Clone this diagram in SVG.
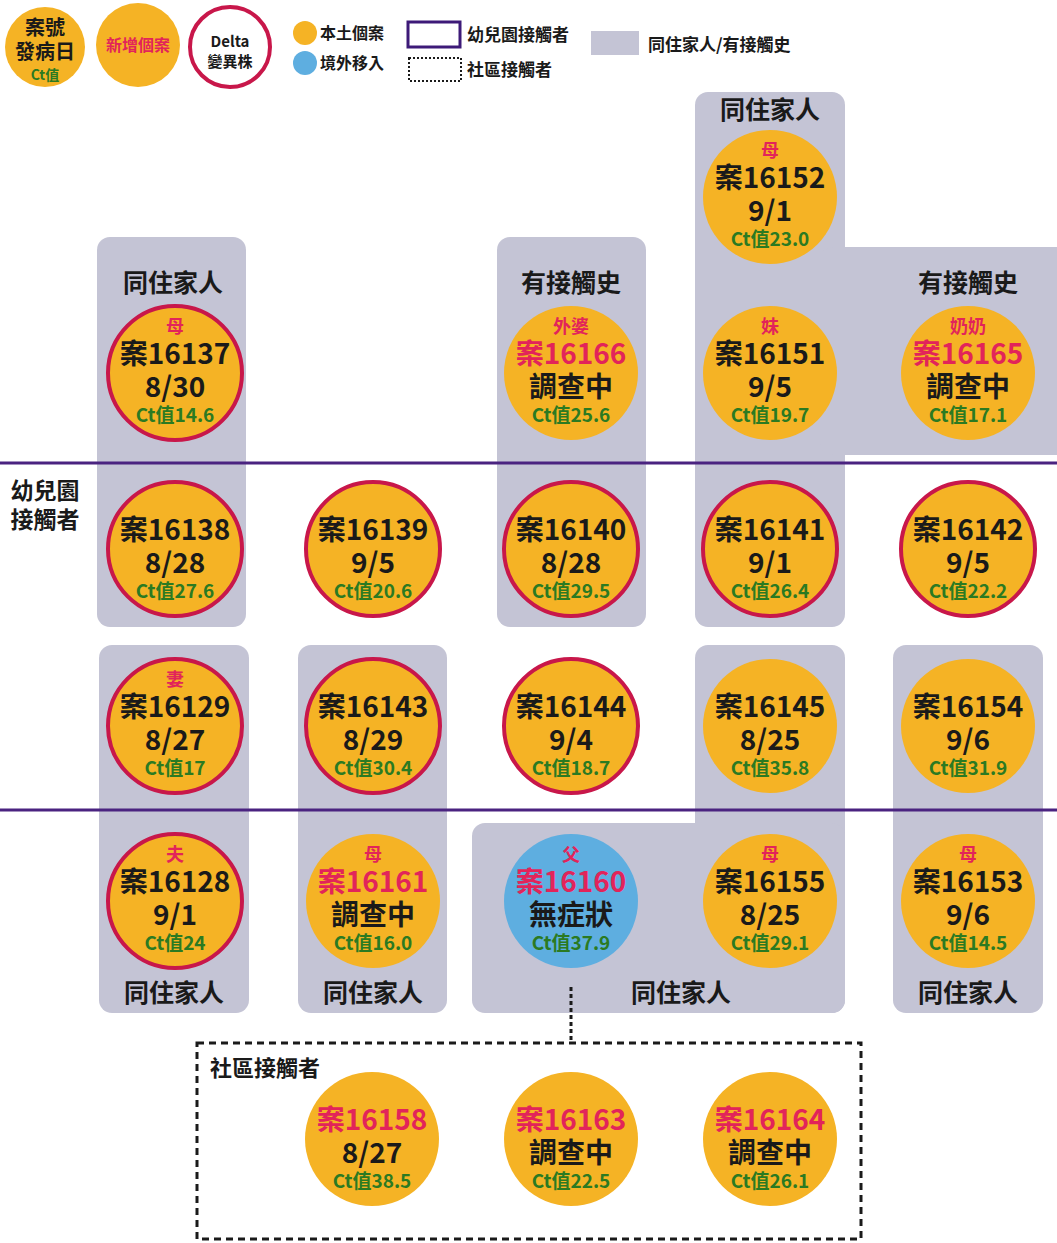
<svg xmlns="http://www.w3.org/2000/svg" width="1057" height="1243" viewBox="0 0 1057 1243">
<style>
text{font-family:"Noto Sans CJK TC","Noto Sans",sans-serif;font-weight:bold;text-anchor:middle}
.box{fill:#c4c4d5}
.loc{fill:#f5b325}
.imp{fill:#5eaee0}
.delta{stroke:#c8174a;stroke-width:4}
.rel{font-size:18px;fill:#e2245a}
.id{font-size:28px;fill:#1a1a1a}
.idn{font-size:28px;fill:#e2245a}
.dt{font-size:28px;fill:#1a1a1a}
.ct{font-size:19px;fill:#2b7a22}
.lbl{font-size:25px;fill:#1a1a1a}
.leg{font-size:16px;fill:#1a1a1a;text-anchor:start}
.kline{stroke:#4a2380;stroke-width:3}
</style>
<rect width="1057" height="1243" fill="#ffffff"/>

<g id="legend">
<circle cx="45" cy="47" r="40" class="loc"/>
<text x="45" y="35" style="font-size:20px;fill:#1a1a1a">案號</text>
<text x="45" y="59" style="font-size:20px;fill:#1a1a1a">發病日</text>
<text x="45" y="80" style="font-size:14px;fill:#2b7a22">Ct值</text>
<circle cx="138" cy="45" r="42" class="loc"/>
<text x="138" y="51" style="font-size:16px;fill:#e2245a">新增個案</text>
<circle cx="230" cy="47" r="40" fill="#ffffff" class="delta"/>
<text x="230" y="47" style="font-size:15px;fill:#1a1a1a">Delta</text>
<text x="230" y="67" style="font-size:15px;fill:#1a1a1a">變異株</text>
<circle cx="305" cy="33" r="12" class="loc"/>
<text x="320" y="39" class="leg">本土個案</text>
<circle cx="305" cy="63" r="12" class="imp"/>
<text x="320" y="69" class="leg">境外移入</text>
<rect x="408" y="22" width="52" height="25" fill="#ffffff" stroke="#3d1a78" stroke-width="3"/>
<text x="467" y="41" class="leg" style="font-size:17px">幼兒園接觸者</text>
<rect x="409" y="58" width="52" height="23" fill="#ffffff" stroke="#1a1a1a" stroke-width="2" stroke-dasharray="2,2"/>
<text x="467" y="76" class="leg" style="font-size:17px">社區接觸者</text>
<rect x="591" y="31" width="48" height="24" class="box"/>
<text x="648" y="51" class="leg" style="font-size:17px">同住家人/有接觸史</text>
</g>

<g id="groups">
<rect x="97" y="237" width="149" height="390" rx="13" class="box"/>
<rect x="497" y="237" width="149" height="390" rx="13" class="box"/>
<rect x="695" y="92" width="150" height="535" rx="13" class="box"/>
<rect x="820" y="247" width="250" height="208" rx="13" class="box"/>
<rect x="99" y="645" width="150" height="368" rx="13" class="box"/>
<rect x="298" y="645" width="149" height="368" rx="13" class="box"/>
<rect x="695" y="645" width="150" height="368" rx="13" class="box"/>
<rect x="472" y="823" width="373" height="190" rx="13" class="box"/>
<rect x="893" y="645" width="150" height="368" rx="13" class="box"/>
<text x="173" y="292" class="lbl">同住家人</text>
<text x="571" y="292" class="lbl">有接觸史</text>
<text x="770" y="119" class="lbl">同住家人</text>
<text x="968" y="292" class="lbl">有接觸史</text>
<text x="174" y="1002" class="lbl">同住家人</text>
<text x="373" y="1002" class="lbl">同住家人</text>
<text x="681" y="1002" class="lbl">同住家人</text>
<text x="968" y="1002" class="lbl">同住家人</text>
</g>

<g id="kindergarten">
<line x1="0" y1="463" x2="1057" y2="463" class="kline"/>
<line x1="0" y1="810" x2="1057" y2="810" class="kline"/>
<text x="45" y="499" style="font-size:23px;fill:#1a1a1a">幼兒園</text>
<text x="45" y="528" style="font-size:23px;fill:#1a1a1a">接觸者</text>
</g>

<g id="connectors">
<line x1="571" y1="987" x2="571" y2="1043" stroke="#1a1a1a" stroke-width="3" stroke-dasharray="4,3"/>
</g>

<g id="community">
<rect x="197" y="1043" width="664" height="196" fill="none" stroke="#1a1a1a" stroke-width="3" stroke-dasharray="7,5"/>
<text x="210" y="1076" style="font-size:22px;fill:#1a1a1a;text-anchor:start">社區接觸者</text>
</g>

<g id="n16152" transform="translate(770,197)"><circle r="67" class="loc"/><text y="-40" class="rel">母</text><text y="-9" class="id">案16152</text><text y="24" class="dt">9/1</text><text y="49" class="ct">Ct值23.0</text></g>
<g id="n16137" transform="translate(175,373)"><circle r="67" class="loc delta"/><text y="-40" class="rel">母</text><text y="-9" class="id">案16137</text><text y="24" class="dt">8/30</text><text y="49" class="ct">Ct值14.6</text></g>
<g id="n16166" transform="translate(571,373)"><circle r="67" class="loc"/><text y="-40" class="rel">外婆</text><text y="-9" class="idn">案16166</text><text y="24" class="dt">調查中</text><text y="49" class="ct">Ct值25.6</text></g>
<g id="n16151" transform="translate(770,373)"><circle r="67" class="loc"/><text y="-40" class="rel">妹</text><text y="-9" class="id">案16151</text><text y="24" class="dt">9/5</text><text y="49" class="ct">Ct值19.7</text></g>
<g id="n16165" transform="translate(968,373)"><circle r="67" class="loc"/><text y="-40" class="rel">奶奶</text><text y="-9" class="idn">案16165</text><text y="24" class="dt">調查中</text><text y="49" class="ct">Ct值17.1</text></g>

<g id="n16138" transform="translate(175,549)"><circle r="67" class="loc delta"/><text y="-9" class="id">案16138</text><text y="24" class="dt">8/28</text><text y="49" class="ct">Ct值27.6</text></g>
<g id="n16139" transform="translate(373,549)"><circle r="67" class="loc delta"/><text y="-9" class="id">案16139</text><text y="24" class="dt">9/5</text><text y="49" class="ct">Ct值20.6</text></g>
<g id="n16140" transform="translate(571,549)"><circle r="67" class="loc delta"/><text y="-9" class="id">案16140</text><text y="24" class="dt">8/28</text><text y="49" class="ct">Ct值29.5</text></g>
<g id="n16141" transform="translate(770,549)"><circle r="67" class="loc delta"/><text y="-9" class="id">案16141</text><text y="24" class="dt">9/1</text><text y="49" class="ct">Ct值26.4</text></g>
<g id="n16142" transform="translate(968,549)"><circle r="67" class="loc delta"/><text y="-9" class="id">案16142</text><text y="24" class="dt">9/5</text><text y="49" class="ct">Ct值22.2</text></g>

<g id="n16129" transform="translate(175,726)"><circle r="67" class="loc delta"/><text y="-40" class="rel">妻</text><text y="-9" class="id">案16129</text><text y="24" class="dt">8/27</text><text y="49" class="ct">Ct值17</text></g>
<g id="n16143" transform="translate(373,726)"><circle r="67" class="loc delta"/><text y="-9" class="id">案16143</text><text y="24" class="dt">8/29</text><text y="49" class="ct">Ct值30.4</text></g>
<g id="n16144" transform="translate(571,726)"><circle r="67" class="loc delta"/><text y="-9" class="id">案16144</text><text y="24" class="dt">9/4</text><text y="49" class="ct">Ct值18.7</text></g>
<g id="n16145" transform="translate(770,726)"><circle r="67" class="loc"/><text y="-9" class="id">案16145</text><text y="24" class="dt">8/25</text><text y="49" class="ct">Ct值35.8</text></g>
<g id="n16154" transform="translate(968,726)"><circle r="67" class="loc"/><text y="-9" class="id">案16154</text><text y="24" class="dt">9/6</text><text y="49" class="ct">Ct值31.9</text></g>

<g id="n16128" transform="translate(175,901)"><circle r="67" class="loc delta"/><text y="-40" class="rel">夫</text><text y="-9" class="id">案16128</text><text y="24" class="dt">9/1</text><text y="49" class="ct">Ct值24</text></g>
<g id="n16161" transform="translate(373,901)"><circle r="67" class="loc"/><text y="-40" class="rel">母</text><text y="-9" class="idn">案16161</text><text y="24" class="dt">調查中</text><text y="49" class="ct">Ct值16.0</text></g>
<g id="n16160" transform="translate(571,901)"><circle r="67" class="imp"/><text y="-40" class="rel">父</text><text y="-9" class="idn">案16160</text><text y="24" class="dt">無症狀</text><text y="49" class="ct">Ct值37.9</text></g>
<g id="n16155" transform="translate(770,901)"><circle r="67" class="loc"/><text y="-40" class="rel">母</text><text y="-9" class="id">案16155</text><text y="24" class="dt">8/25</text><text y="49" class="ct">Ct值29.1</text></g>
<g id="n16153" transform="translate(968,901)"><circle r="67" class="loc"/><text y="-40" class="rel">母</text><text y="-9" class="id">案16153</text><text y="24" class="dt">9/6</text><text y="49" class="ct">Ct值14.5</text></g>

<g id="n16158" transform="translate(372,1139)"><circle r="67" class="loc"/><text y="-9" class="idn">案16158</text><text y="24" class="dt">8/27</text><text y="49" class="ct">Ct值38.5</text></g>
<g id="n16163" transform="translate(571,1139)"><circle r="67" class="loc"/><text y="-9" class="idn">案16163</text><text y="24" class="dt">調查中</text><text y="49" class="ct">Ct值22.5</text></g>
<g id="n16164" transform="translate(770,1139)"><circle r="67" class="loc"/><text y="-9" class="idn">案16164</text><text y="24" class="dt">調查中</text><text y="49" class="ct">Ct值26.1</text></g>
</svg>
